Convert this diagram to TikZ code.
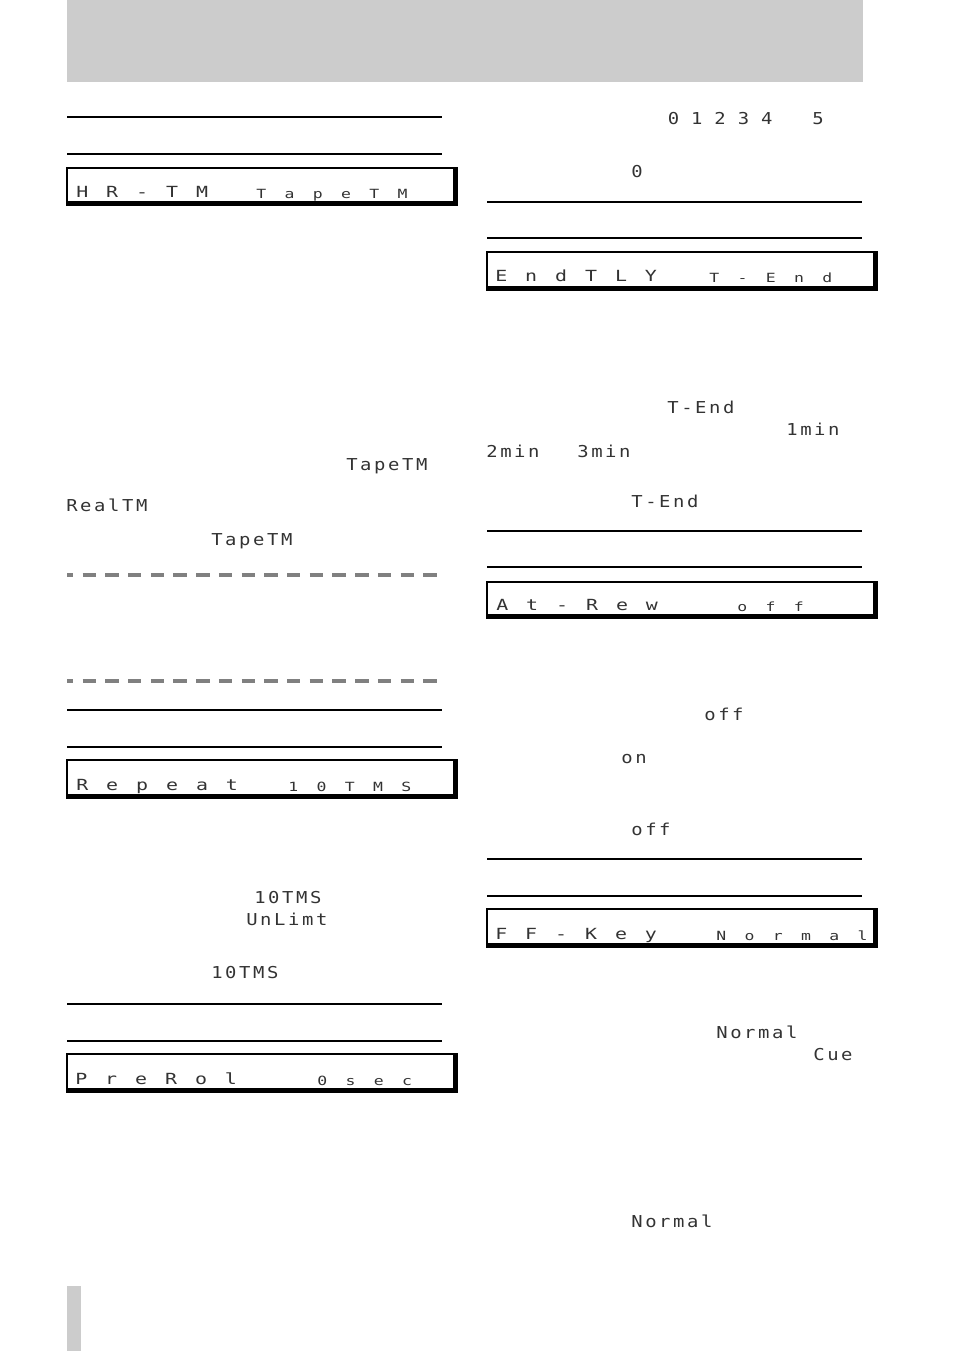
\documentclass[tikz,border=0pt]{standalone}
\usepackage{fontspec}
\newfontfamily\lcdbig[FakeStretch=1.3,LetterSpace=117]{DejaVu Sans Mono}
\newfontfamily\lcdval[FakeStretch=1.3,LetterSpace=145]{DejaVu Sans Mono}
\newfontfamily\lcdtxt[FakeStretch=1.15,LetterSpace=16]{DejaVu Sans Mono}
\newfontfamily\lcdplain[FakeStretch=1.15]{DejaVu Sans Mono}
\definecolor{band}{HTML}{CCCCCC}
\newcommand\lcdframe[5]{%
  \node[draw=none,inner sep=0pt,minimum width=0pt] (#1) at ({(#2+#4)/2},{(#3+#5)/2}) {};
  \draw[thinrule] (#2,#3) rectangle (#4,#5);
  \fill ({#4-3.6},#3) rectangle (#4,#5);
  \fill (#2,{#5-3.6}) rectangle (#4,#5);
}
\begin{document}
\begin{tikzpicture}[x=0.75pt,y=-0.75pt,
  thinrule/.style={line width=0.8pt},
  lbl/.style={anchor=base west,inner sep=0pt,text=black!80,font=\lcdbig\fontsize{11.5}{12}\selectfont},
  val/.style={anchor=base west,inner sep=0pt,text=black!80,font=\lcdval\fontsize{9.5}{10}\selectfont},
  txt/.style={anchor=base west,inner sep=0pt,text=black!80,font=\lcdtxt\fontsize{12.3}{13}\selectfont},
  dig/.style={anchor=base west,inner sep=0pt,text=black!80,font=\lcdplain\fontsize{12.3}{13}\selectfont},
  dashrule/.style={line width=3.3pt,black!50,dash pattern=on 10.05pt off 6.98pt,dash phase=5.3pt}]
\useasboundingbox (0,0) rectangle (954,1351);
% header band and side tab
\fill[band] (67,0) rectangle (863,82);
\fill[band] (67,1286) rectangle (81,1351);
% ---- left column ----
\draw[thinrule] (67,117) -- (442,117);
\draw[thinrule] (67,154) -- (442,154);
\lcdframe{b1}{67}{168}{457}{205}
\node[lbl] (b1l) at (76,198) {HR-TM};
\node[val] (b1v) at (256,199) {TapeTM};
\node[txt] (t1) at (346,470) {TapeTM};
\node[txt] (t2) at (66,511) {RealTM};
\node[txt] (t3) at (211,545) {TapeTM};
\draw[dashrule] (67,575) -- (437,575);
\draw[dashrule] (67,681) -- (437,681);
\draw[thinrule] (67,710) -- (442,710);
\draw[thinrule] (67,747) -- (442,747);
\lcdframe{b2}{67}{760}{457}{798}
\node[lbl] (b2l) at (76,790) {Repeat};
\node[val] (b2v) at (288,791) {10TMS};
\node[txt] (t4) at (254,903) {10TMS};
\node[txt] (t5) at (246,925) {UnLimt};
\node[txt] (t6) at (211,978) {10TMS};
\draw[thinrule] (67,1004) -- (442,1004);
\draw[thinrule] (67,1041) -- (442,1041);
\lcdframe{b3}{67}{1054}{457}{1092}
\node[lbl] (b3l) at (75,1084) {PreRol};
\node[val] (b3v) at (317,1085) {0sec};
% ---- right column ----
\foreach \d [count=\i from 0] in {0,1,2,3,4}
  \node[dig] (d\i) at ({667.5+23.35*\i},125) {\d};
\node[dig] (d5) at (812,125) {5};
\node[dig] (z0) at (631,178) {0};
\draw[thinrule] (487,202) -- (862,202);
\draw[thinrule] (487,238) -- (862,238);
\lcdframe{b4}{487}{252}{877}{290}
\node[lbl] (b4l) at (495,282) {EndTLY};
\node[val] (b4v) at (709,283) {T-End};
\node[txt] (r1) at (667,413) {T-End};
\node[txt] (r2) at (786,435) {1min};
\node[txt] (r3) at (486,457) {2min};
\node[txt] (r4) at (577,457) {3min};
\node[txt] (r5) at (631,507) {T-End};
\draw[thinrule] (487,531) -- (862,531);
\draw[thinrule] (487,567) -- (862,567);
\lcdframe{b5}{487}{582}{877}{618}
\node[lbl] (b5l) at (496,610) {At-Rew};
\node[val] (b5v) at (737,611) {off};
\node[txt] (r6) at (704,720) {off};
\node[txt] (r7) at (621,763) {on};
\node[txt] (r8) at (631,835) {off};
\draw[thinrule] (487,859) -- (862,859);
\draw[thinrule] (487,896) -- (862,896);
\lcdframe{b6}{487}{909}{877}{947}
\node[lbl] (b6l) at (495,939) {FF-Key};
\node[val] (b6v) at (716,940) {Normal};
\node[txt] (r9) at (716,1038) {Normal};
\node[txt] (r10) at (813,1060) {Cue};
\node[txt] (r11) at (631,1227) {Normal};
\end{tikzpicture}
\end{document}
